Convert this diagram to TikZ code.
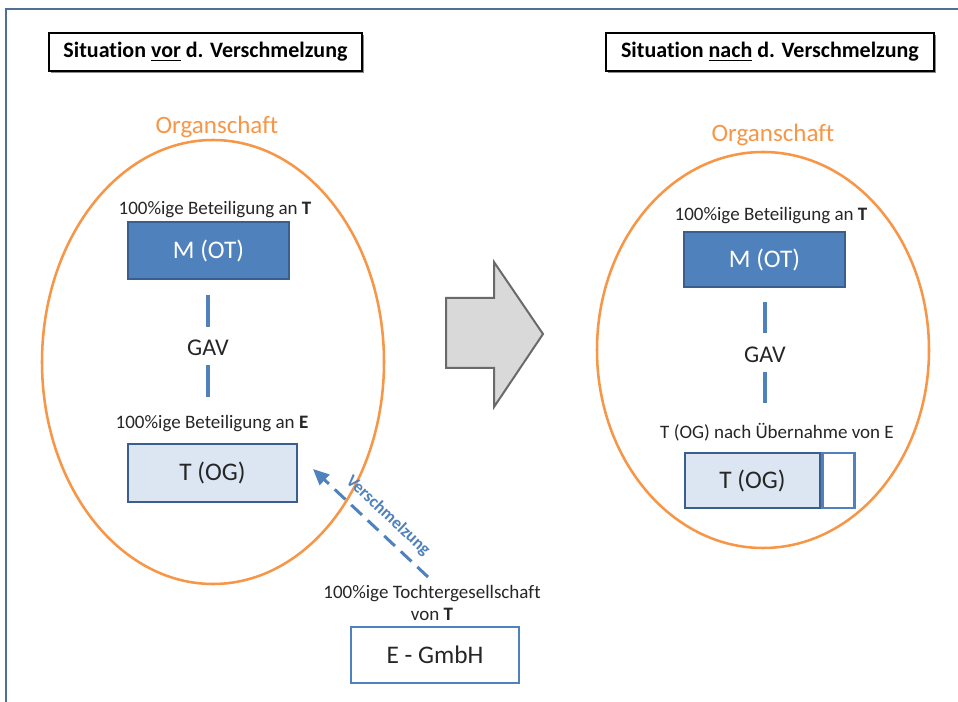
\documentclass[tikz,border=0pt]{standalone}
\usepackage{fontspec}
\setmainfont{Carlito}[Ligatures={NoCommon}]
\usetikzlibrary{arrows.meta,shadows}
\definecolor{orgc}{HTML}{F79646}
\definecolor{bluec}{HTML}{4F81BD}
\definecolor{darkb}{HTML}{3A5F8F}
\definecolor{lightb}{HTML}{DCE6F2}
\definecolor{framec}{HTML}{4F6E98}
\definecolor{txt}{HTML}{262626}
\definecolor{arrfill}{HTML}{D9D9D9}
\definecolor{arrdraw}{HTML}{6A6A6A}
\tikzset{
  small/.style={text=txt,inner sep=0pt,font=\fontsize{14.25pt}{17pt}\selectfont,align=center},
  titlebox/.style={draw=black,line width=0.8pt,fill=white,text=black,font=\fontsize{16.5pt}{19pt}\selectfont\bfseries,
     minimum height=28.5pt,inner sep=0pt,drop shadow={shadow xshift=1.5pt,shadow yshift=-1.5pt,fill=black,opacity=0.45}},
  orglabel/.style={text=orgc,font=\fontsize{18.75pt}{22pt}\selectfont,inner sep=0pt},
  mbox/.style={draw=darkb,fill=bluec,line width=1.9pt,text=white,font=\fontsize{19pt}{22pt}\selectfont,inner sep=0pt},
  tbox/.style={draw=darkb,fill=lightb,line width=1.9pt,text=txt,font=\fontsize{19pt}{22pt}\selectfont,inner sep=0pt},
  ebox/.style={draw=bluec,fill=white,line width=1.9pt,text=txt,font=\fontsize{19pt}{22pt}\selectfont,inner sep=0pt},
  gavtext/.style={text=txt,font=\fontsize{18pt}{21pt}\selectfont,inner sep=0pt},
  gavline/.style={draw=bluec,line width=3pt},
  ellipseline/.style={draw=orgc,line width=1.9pt},
}
\begin{document}
\begin{tikzpicture}[x=0.75pt,y=-0.75pt]
\useasboundingbox (0,0) rectangle (958,702);
\fill[white] (0,0) rectangle (958,702);
% frame
\draw[framec,line width=1.6pt] (6,702) -- (6,9) -- (958,9);

% titles
\node[titlebox,minimum width=234.75pt] (title1) at (205.5,52) {Situation \underline{vor} d. Verschmelzung};
\node[titlebox,minimum width=246pt] (title2) at (770,52) {Situation \underline{nach} d. Verschmelzung};

% left ellipse
\draw[ellipseline] (213,362) ellipse [x radius=171, y radius=222];
\node[orglabel] (org1) at (217,127) {Organschaft};

\node[small] (labM1) at (215,210) {100\%ige Beteiligung an \textbf{T}};
\node[mbox,minimum width=120.75pt,minimum height=42.75pt] (M1) at (208.5,250.5) {M (OT)};
\node[gavtext] (GAV1) at (208,348) {GAV};
\node[small] (labT1) at (212,424) {100\%ige Beteiligung an \textbf{E}};
\node[tbox,minimum width=126.75pt,minimum height=43.5pt] (T1) at (212.5,473) {T (OG)};
\draw[gavline,shorten <=11.25pt,shorten >=10pt] (M1.south -| GAV1) -- (GAV1.north);
\draw[gavline,shorten <=7pt,shorten >=34.5pt] (GAV1.south) -- (GAV1.south |- T1.north);

% E GmbH
\node[small] (labE) at (432,603) {100\%ige Tochtergesellschaft\\von \textbf{T}};
\node[ebox,minimum width=126pt,minimum height=42pt] (E) at (435,655) {E - GmbH};
\coordinate (vs) at (428,577);
\coordinate (ve) at (313,469);
\draw[bluec,line width=2.25pt,dash pattern=on 11pt off 6pt,-{Triangle[length=12pt,width=10.5pt]}] (vs) -- (ve);
\node[text=bluec,font=\fontsize{13pt}{15pt}\selectfont\bfseries,inner sep=0pt,rotate=-43] (vlab) at (388,516) {Verschmelzung};

% big arrow
\draw[fill=arrfill,draw=arrdraw,line width=1.5pt,line join=miter]
  (446,298) -- (494,298) -- (494,262) -- (543,334) -- (494,407) -- (494,368) -- (446,368) -- cycle;

% right ellipse
\draw[ellipseline] (763,350) ellipse [x radius=166, y radius=198];
\node[orglabel] (org2) at (773,135) {Organschaft};

\node[small] (labM2) at (771,216) {100\%ige Beteiligung an \textbf{T}};
\node[mbox,minimum width=120.75pt,minimum height=41.25pt] (M2) at (764.5,259.5) {M (OT)};
\node[gavtext] (GAV2) at (765,355) {GAV};
\node[small] (labT2) at (777,432) {T (OG) nach Übernahme von E};
\node[tbox,minimum width=101.25pt,minimum height=41.25pt] (T2) at (752.5,480.5) {T (OG)};
\node[draw=bluec,fill=white,line width=1.9pt,minimum width=24pt,minimum height=41.25pt,inner sep=0pt,anchor=west] (T2x) at (T2.east) {};
\draw[gavline,shorten <=10.5pt,shorten >=10.5pt] (M2.south -| GAV2) -- (GAV2.north);
\draw[gavline,shorten <=7pt,shorten >=36.75pt] (GAV2.south) -- (GAV2.south |- T2.north);
\end{tikzpicture}
\end{document}
